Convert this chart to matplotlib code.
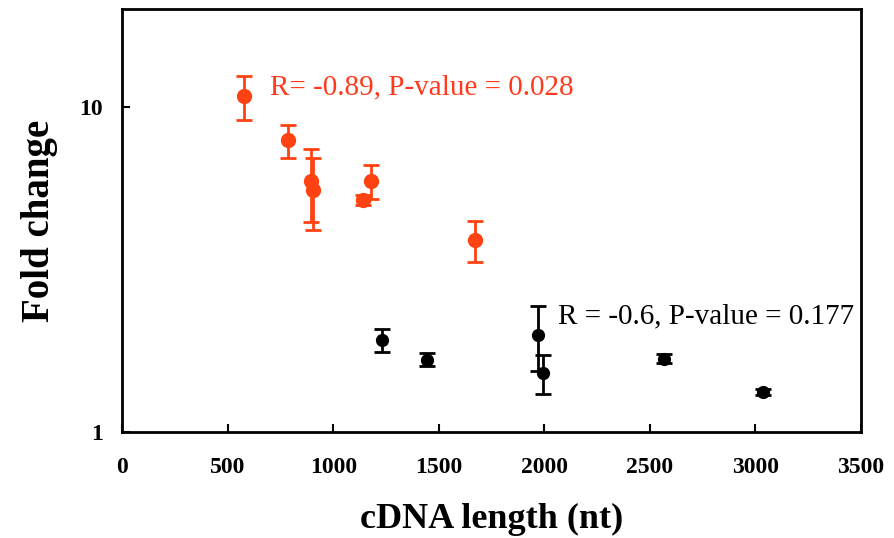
import matplotlib
matplotlib.use("Agg")
import matplotlib.pyplot as plt
from matplotlib.ticker import FixedLocator, NullLocator

plt.rcParams['font.family'] = ['Liberation Serif', 'DejaVu Serif']

# high fold-change group (red)
red_len = [577, 785, 892, 902, 1142, 1177, 1671]
red_fc = [10.8, 7.92, 5.92, 5.58, 5.17, 5.92, 3.90]
red_err = [1.7, 0.92, 1.5, 1.4, 0.18, 0.7, 0.56]

# low fold-change group (black)
blk_len = [1229, 1443, 1969, 1992, 2567, 3038]
blk_fc = [1.92, 1.674, 1.99, 1.52, 1.686, 1.33]
blk_err = [0.16, 0.08, 0.45, 0.21, 0.05, 0.03]

red = '#ff4212'

fig = plt.figure(figsize=(8.94, 5.38), dpi=100)
ax = fig.add_axes([0.1368, 0.1965, 0.963 - 0.1368, 0.9827 - 0.1965])

ax.errorbar(red_len, red_fc, yerr=red_err, fmt='o', color=red, ms=10,
            elinewidth=2, capsize=6, capthick=2)
ax.errorbar(blk_len, blk_fc, yerr=blk_err, fmt='o', color='black', ms=8.5,
            elinewidth=2, capsize=6, capthick=2)

ax.text(700, 11.5, 'R= -0.89, P-value = 0.028', color='#ff3a1c', fontsize=21,
        va='center')
ax.text(2065, 2.27, 'R = -0.6, P-value = 0.177', color='black', fontsize=21,
        va='center')

ax.set_yscale('log')
ax.set_xlim(0, 3500)
ax.set_ylim(1, 20)
ax.xaxis.set_major_locator(FixedLocator(range(0, 3501, 500)))
ax.yaxis.set_major_locator(FixedLocator([1, 10]))
ax.yaxis.set_minor_locator(NullLocator())
ax.set_yticklabels(['1', '10'])
ax.tick_params(direction='in', width=1.5, length=6)
ax.tick_params(axis='x', pad=18)
ax.tick_params(axis='y', pad=14)
for lab in ax.get_xticklabels() + ax.get_yticklabels():
    lab.set_fontweight('bold')
    lab.set_fontsize(17)
for s in ax.spines.values():
    s.set_linewidth(2)

ax.set_xlabel('cDNA length (nt)', fontsize=26, fontweight='bold', labelpad=18)
ax.set_ylabel('Fold change', fontsize=28, fontweight='bold', labelpad=15)

fig.savefig('out.png', dpi=100)
